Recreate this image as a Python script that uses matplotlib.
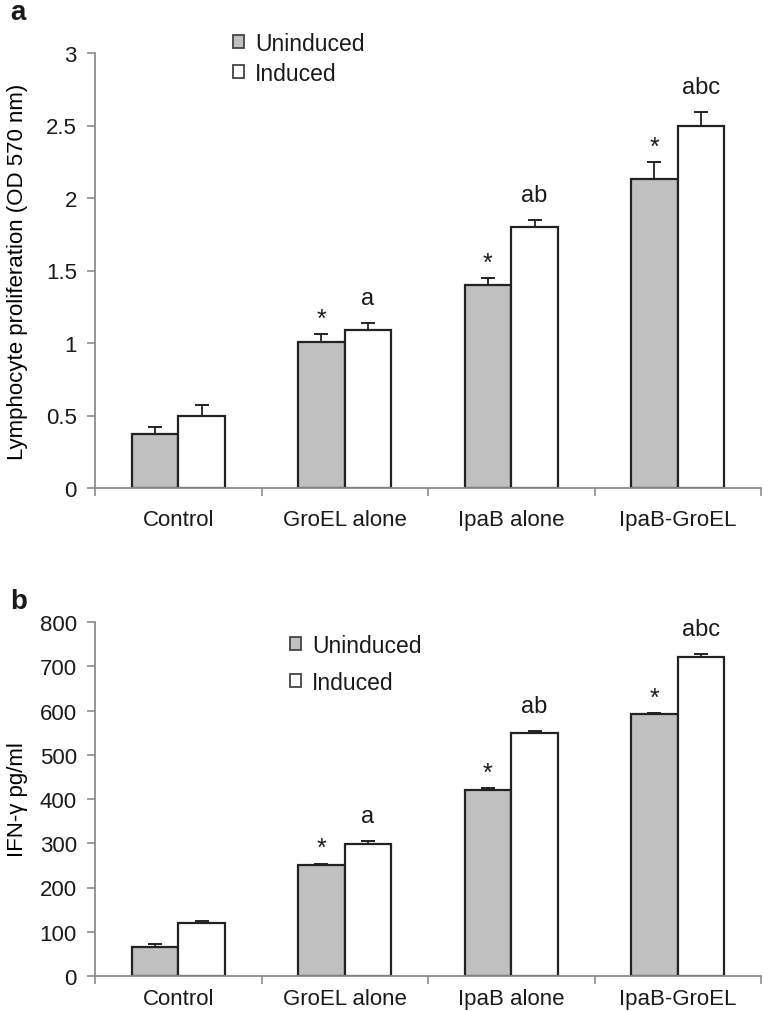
import matplotlib
matplotlib.use("Agg")
import matplotlib.pyplot as plt
import numpy as np
from matplotlib.patches import Patch

plt.rcParams['font.family'] = ['Liberation Sans', 'DejaVu Sans']
plt.rcParams['text.color'] = '#1a1a1a'
plt.rcParams['xtick.labelcolor'] = '#1a1a1a'
plt.rcParams['ytick.labelcolor'] = '#1a1a1a'

categories = ["Control", "GroEL alone", "IpaB alone", "IpaB-GroEL"]

a_uninduced = [0.37, 1.01, 1.40, 2.13]
a_uninduced_err = [0.05, 0.05, 0.05, 0.12]
a_induced = [0.50, 1.09, 1.80, 2.50]
a_induced_err = [0.07, 0.05, 0.05, 0.09]
a_yticks = [0, 0.5, 1, 1.5, 2, 2.5, 3]
a_yticklabels = ["0", "0.5", "1", "1.5", "2", "2.5", "3"]

b_uninduced = [65, 250, 420, 591]
b_uninduced_err = [8, 4, 4, 4]
b_induced = [120, 299, 549, 721]
b_induced_err = [4, 7, 4, 7]
b_yticks = [0, 100, 200, 300, 400, 500, 600, 700, 800]

star_labels = ["", "*", "*", "*"]
induced_labels = ["", "a", "ab", "abc"]

GRAY = "#c0c0c0"
SPINE = "#8c8c8c"
EDGE = "#222222"

fig = plt.figure(figsize=(7.69, 10.12), dpi=100)
W, H = 769, 1012

def make_ax(left, right, top, bottom):
    return fig.add_axes([left / W, 1 - bottom / H, (right - left) / W, (bottom - top) / H])

def draw(ax, unind, unind_err, ind, ind_err, ymax, yticks, yticklabels, ylabel, xpad, leg_anchor, legspace):
    x = np.arange(len(categories))
    w = 0.28
    ax.bar(x - w / 2, unind, w, color=GRAY, edgecolor=EDGE, linewidth=1.6, zorder=2)
    ax.bar(x + w / 2, ind, w, color="white", edgecolor=EDGE, linewidth=1.6, zorder=2)
    ax.errorbar(x - w / 2, unind, yerr=[np.zeros(len(unind)), unind_err], fmt="none",
                ecolor=EDGE, elinewidth=1.3, capsize=5, capthick=1.4, zorder=3)
    ax.errorbar(x + w / 2, ind, yerr=[np.zeros(len(ind)), ind_err], fmt="none",
                ecolor=EDGE, elinewidth=1.3, capsize=5, capthick=1.4, zorder=3)
    for i in range(len(categories)):
        if star_labels[i]:
            ax.annotate(star_labels[i], (x[i] - w / 2, unind[i] + unind_err[i]),
                        xytext=(0, 11), textcoords="offset points",
                        ha="center", va="center", fontsize=18)
        if induced_labels[i]:
            ax.annotate(induced_labels[i], (x[i] + w / 2, ind[i] + ind_err[i]),
                        xytext=(0, 18), textcoords="offset points",
                        ha="center", va="center", fontsize=17)
    ax.set_xlim(-0.5, len(categories) - 0.5)
    ax.set_ylim(0, ymax)
    ax.set_yticks(yticks)
    ax.set_yticklabels(yticklabels, fontsize=16)
    ax.set_xticks(x)
    ax.set_xticklabels(categories, fontsize=16)
    ax.tick_params(axis="x", which="major", length=0, pad=xpad)
    ax.set_xticks(np.arange(-0.5, len(categories)), minor=True)
    ax.tick_params(axis="x", which="minor", length=6, color=SPINE, width=1.2)
    ax.tick_params(axis="y", length=6, color=SPINE, width=1.2, pad=7)
    for s in ["top", "right"]:
        ax.spines[s].set_visible(False)
    for s in ["left", "bottom"]:
        ax.spines[s].set_color(SPINE)
        ax.spines[s].set_linewidth(1.3)
    ax.set_ylabel(ylabel, fontsize=16)
    handles = [Patch(facecolor=GRAY, edgecolor="#444444", linewidth=1.3, label="Uninduced"),
               Patch(facecolor="white", edgecolor="#444444", linewidth=1.3, label="Induced")]
    ax.legend(handles=handles, loc="upper left", bbox_to_anchor=leg_anchor,
              bbox_transform=fig.transFigure, frameon=False, fontsize=16.5,
              handlelength=0.5, handleheight=0.5, handletextpad=0.45, labelspacing=legspace,
              borderaxespad=0, borderpad=0)

ax_a = make_ax(95, 761, 54, 489)
draw(ax_a, a_uninduced, a_uninduced_err, a_induced, a_induced_err, 3, a_yticks,
     a_yticklabels, "Lymphocyte proliferation (OD 570 nm)", 15, (233 / W, 1 - 33 / H), 0.3)
ax_a.yaxis.set_label_coords(-0.1, 0.5)

ax_b = make_ax(95, 761, 623, 977)
draw(ax_b, b_uninduced, b_uninduced_err, b_induced, b_induced_err, 800, b_yticks,
     [str(v) for v in b_yticks], "IFN-\u03b3 pg/ml", 9, (290 / W, 1 - 635 / H), 0.6)
ax_b.yaxis.set_label_coords(-0.1, 0.5)

fig.text(10 / W, 1 - 13 / H, "a", fontsize=20, fontweight="bold", va="center")
fig.text(10 / W, 1 - 602 / H, "b", fontsize=20, fontweight="bold", va="center")

fig.savefig("out.png", dpi=100)
